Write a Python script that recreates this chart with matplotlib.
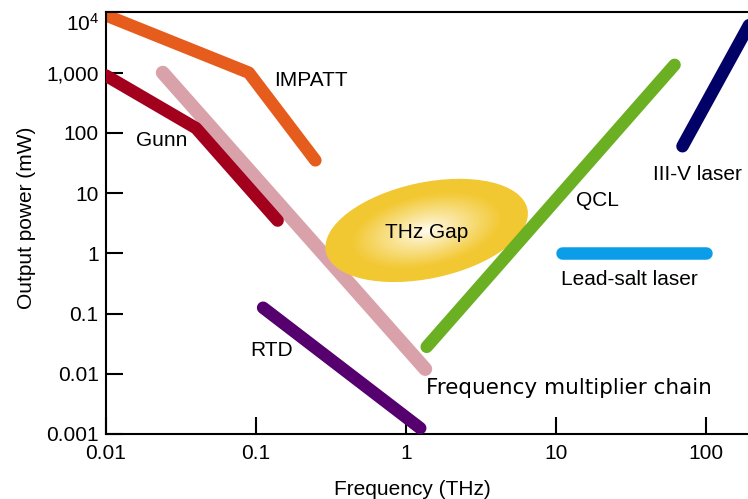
import numpy as np
import matplotlib
matplotlib.use('Agg')
import matplotlib.pyplot as plt
from matplotlib.patches import Ellipse
from matplotlib.transforms import ScaledTranslation
from matplotlib.colors import to_rgb

plt.rcParams['font.family'] = ['Liberation Sans', 'DejaVu Sans']
plt.rcParams['mathtext.default'] = 'regular'

# source curves: frequency (THz) vs output power (mW)
impatt_f = [0.01, 0.09, 0.25]
impatt_p = [9000, 1000, 35]
gunn_f = [0.01, 0.04, 0.14]
gunn_p = [900, 120, 3.5]
fmc_f = [0.024, 1.35]
fmc_p = [1000, 0.012]
rtd_f = [0.112, 1.25]
rtd_p = [0.125, 0.00125]
qcl_f = [1.38, 62]
qcl_p = [0.028, 1350]
iiiv_f = [70, 200]
iiiv_p = [60, 7000]
leadsalt_f = [11, 100]
leadsalt_p = [1, 1]

gap_center = (1.38, 2.4)

xticks = [0.01, 0.1, 1, 10, 100]
xticklabels = ['0.01', '0.1', '1', '10', '100']
yticks = [1e-3, 1e-2, 1e-1, 1, 10, 100, 1000, 1e4]
yticklabels = ['0.001', '0.01', '0.1', '1', '10', '100', '1,000', r'$\mathregular{10^4}$']

fig = plt.figure(figsize=(7.48, 4.99), dpi=100)
ax = fig.add_axes([0.1413, 0.1303, 1 - 0.1413, 0.975 - 0.1303])
ax.set_xscale('log')
ax.set_yscale('log')
ax.set_xlim(0.01, 191.4)
ax.set_ylim(1e-3, 1e4)

lw = 9
kw = dict(solid_capstyle='round', solid_joinstyle='round')
ax.plot(impatt_f, impatt_p, color='#E65C1C', lw=lw, zorder=2, **kw)
ax.plot(fmc_f, fmc_p, color='#D9A2AA', lw=lw + 1, zorder=2, **kw)
ax.plot(gunn_f, gunn_p, color='#A3001E', lw=lw, zorder=3, **kw)
ax.plot(rtd_f, rtd_p, color='#55006E', lw=lw, zorder=3, **kw)
ax.plot(qcl_f, qcl_p, color='#6BB022', lw=lw, zorder=5, **kw)
ax.plot(iiiv_f, iiiv_p, color='#000066', lw=lw, zorder=3, **kw)
ax.plot(leadsalt_f, leadsalt_p, color='#0B9DE9', lw=lw, zorder=3, **kw)

# THz gap: radial white-to-gold gradient built from nested ellipses
gold = np.array(to_rgb('#F2C832'))
white = np.array([1.0, 0.995, 0.96])
tr = fig.dpi_scale_trans + ScaledTranslation(gap_center[0], gap_center[1], ax.transData)
for s in np.linspace(1, 0.02, 60):
    t = min(1.0, s / 0.75) ** 0.9
    c = white * (1 - t) + gold * t
    ax.add_patch(Ellipse((0, 0), 2.06 * s, 0.96 * s, angle=12, transform=tr,
                         facecolor=c, edgecolor='none', zorder=4))

fs = 15
tkw = dict(fontsize=fs, ha='center', va='center_baseline')
ax.text(0.235, 800, 'IMPATT', **tkw)
ax.text(0.0235, 80, 'Gunn', **tkw)
ax.text(0.127, 0.026, 'RTD', **tkw)
ax.text(gap_center[0], gap_center[1], 'THz Gap', zorder=6, **tkw)
ax.text(19, 8.2, 'QCL', **tkw)
ax.text(88, 22, 'III-V laser', **tkw)
ax.text(31, 0.39, 'Lead-salt laser', **tkw)
ax.text(12.2, 0.0063, 'Frequency multiplier chain', fontsize=15.5, ha='center',
        va='center_baseline', family='DejaVu Sans')

ax.set_xticks(xticks)
ax.set_xticklabels(xticklabels)
ax.set_yticks(yticks)
ax.set_yticklabels(yticklabels)
ax.minorticks_off()
ax.tick_params(direction='in', length=12, width=1.5, labelsize=fs)
ax.tick_params(axis='x', pad=7)
ax.tick_params(axis='y', pad=5)

# nudge the 10^4 label down off the top spine
top_lbl = ax.get_yticklabels()[-1]
top_lbl.set_transform(top_lbl.get_transform() + ScaledTranslation(0, -0.09, fig.dpi_scale_trans))

for side in ['left', 'bottom', 'top']:
    ax.spines[side].set_linewidth(1.5)
ax.spines['right'].set_visible(False)

ax.set_xlabel('Frequency (THz)', fontsize=fs)
ax.set_ylabel('Output power (mW)', fontsize=fs)
ax.xaxis.set_label_coords(0.478, -0.109)
ax.yaxis.set_label_coords(-0.1085, 0.514)

fig.savefig('out.png', dpi=100, facecolor='white')
